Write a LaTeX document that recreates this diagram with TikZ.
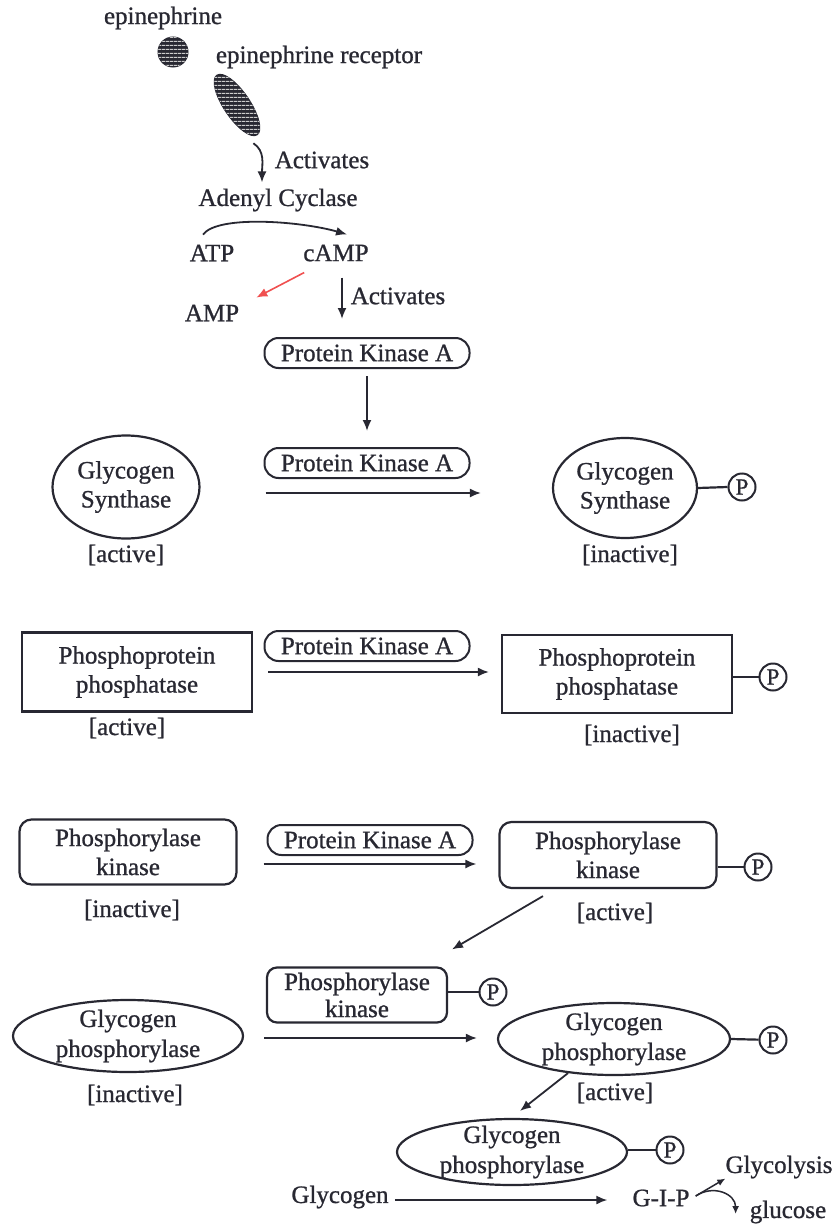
\documentclass[tikz,border=0pt]{standalone}
\usepackage{fontspec}
\setmainfont{Liberation Serif}[FakeBold=0.9]
\usetikzlibrary{arrows.meta,shapes.geometric,patterns.meta,calc}
\definecolor{ink}{RGB}{40,40,50}
\definecolor{redarrow}{RGB}{240,80,80}
\newcommand\diafont{\fontsize{25}{29}\selectfont}
\begin{document}
\begin{tikzpicture}[x=1pt,y=-1pt,
  every node/.style={text=ink, font=\diafont},
  lbl/.style={inner sep=0pt},
  line/.style={draw=ink, line width=2.2pt},
  arr/.style={draw=ink, line width=1.8pt, -{Latex[length=11pt,width=9pt]}},
  ellnode/.style={ellipse, draw=ink, line width=2.2pt, inner sep=-25pt, align=center},
  boxnode/.style={rectangle, draw=ink, line width=2.2pt, inner sep=-25pt, align=center},
  roundnode/.style={boxnode, rounded corners=12pt},
  pka/.style={rectangle, rounded corners=14pt, draw=ink, line width=2pt, minimum width=205, minimum height=30, inner sep=0pt},
  phos/.style={circle, draw=ink, line width=2pt, minimum size=27, inner sep=0pt, font=\fontsize{23}{23}\selectfont},
  hatch/.style={fill=ink, draw=ink, line width=1pt, postaction={pattern={Lines[angle=0,distance=4pt,line width=1.3pt]}, pattern color=white!60!gray}}
]
\fill[white] (0,0) rectangle (838,1225);
\useasboundingbox (0,0) rectangle (838,1225);

% top part
\node[lbl] (epi) at (163,18) {epinephrine};
\node[circle, minimum size=30, inner sep=0pt, hatch] (lig) at (173,52) {};
\node[lbl] (rectxt) at (319,57) {epinephrine receptor};
\node[ellipse, minimum width=72, minimum height=26, inner sep=0pt, rotate=-56, hatch] (rec) at (237,105) {};
\node[lbl] (actA) at (322,160) {Activates};
\node[lbl] (ac) at (278,200) {Adenyl Cyclase};
\node[lbl] (atp) at (212,253) {ATP};
\node[lbl] (camp) at (336,253) {cAMP};
\node[lbl] (amp) at (212,313) {AMP};
\node[lbl] (actB) at (398,296) {Activates};
\node[pka] (pka1) at (367,353) {Protein Kinase A};

\draw[arr] ($(rec.east)+(-4,8)$) .. controls +(12,8) and +(0,-18) .. ($(ac.north)+(-16,-6)$);
\draw[arr] ($(atp.north)+(-9,-10)$) .. controls +(15,-20) and +(-45,-13) .. ($(camp.north)+(11,-10)$);
\draw[arr, draw=redarrow, line width=1.6pt] ($(camp.south west)+(1,11)$) -- ($(amp.north east)+(17,-7)$);
\draw[arr] ($(camp.south)+(6,16)$) -- ($(pka1.north)+(-25,-18)$);

% row 1
\node[pka] (pka2) at (367,463) {Protein Kinase A};
\draw[arr] ($(pka1.south)+(0,7)$) -- ($(pka2.north)+(0,-16)$);
\node[ellnode, minimum width=147, minimum height=103] (gs1) at (126,487) {Glycogen\\Synthase};
\node[lbl] (gs1s) at (126,555) {[active]};
\node[ellnode, minimum width=144, minimum height=100] (gs2) at (625,488) {Glycogen\\Synthase};
\node[phos] (p1) at (742,487) {P};
\draw[line] (gs2.east) -- (p1.west);
\node[lbl] (gs2s) at (630,555) {[inactive]};
\draw[arr, shorten <=65pt, shorten >=71pt] ($(gs1.east)+(0,6)$) -- ($(gs2.west)+(0,5)$);

% row 2
\node[boxnode, minimum width=230, minimum height=79] (pp1) at (137,672) {Phosphoprotein\\phosphatase};
\node[lbl] (pp1s) at (127,728) {[active]};
\node[pka] (pka3) at (367,646) {Protein Kinase A};
\node[boxnode, minimum width=230, minimum height=78] (pp2) at (617,674) {Phosphoprotein\\phosphatase};
\node[phos] (p2) at (773,677) {P};
\draw[line] (pp2.east |- p2) -- (p2);
\node[lbl] (pp2s) at (632,735) {[inactive]};
\draw[arr, shorten <=15pt, shorten >=12pt] (pp1.east) -- ($(pp2.west)+(0,-2)$);

% row 3
\node[roundnode, minimum width=217, minimum height=65] (pk1) at (128,852) {Phosphorylase\\kinase};
\node[lbl] (pk1s) at (132,910) {[inactive]};
\node[pka] (pka4) at (370,840) {Protein Kinase A};
\node[roundnode, minimum width=217, minimum height=66] (pk2) at (608,855) {Phosphorylase\\kinase};
\node[phos] (p3) at (758,867) {P};
\draw[line] (pk2.east |- p3) -- (p3);
\node[lbl] (pk2s) at (615,913) {[active]};
\draw[arr, shorten <=26pt, shorten >=22pt] ($(pk1.east)+(0,12)$) -- ($(pk2.west)+(0,9)$);

% row 4
\node[roundnode, rounded corners=10pt, minimum width=180, minimum height=55, font=\fontsize{25}{27}\selectfont] (pks) at (357,995) {Phosphorylase\\kinase};
\node[phos] (p4) at (493,992) {P};
\draw[line] (pks.east |- p4) -- (p4);
\draw[arr] ($(pk2.south)+(-65,7)$) -- ($(pks.north)+(95,-17)$);
\node[ellnode, minimum width=230, minimum height=72, font=\fontsize{25}{30}\selectfont] (gp1) at (128,1036) {Glycogen\\phosphorylase};
\node[lbl] (gp1s) at (135,1095) {[inactive]};
\node[ellnode, minimum width=232, minimum height=72, font=\fontsize{25}{30}\selectfont] (gp2) at (614,1039) {Glycogen\\phosphorylase};
\node[phos] (p5) at (773,1040) {P};
\draw[line] (gp2.east) -- (p5);
\node[lbl] (gp2s) at (615,1093) {[active]};
\draw[arr, shorten <=20pt, shorten >=20pt] ($(gp1.east)+(0,2)$) -- ($(gp2.west)+(0,-1)$);

% bottom
\node[ellnode, minimum width=230, minimum height=66, font=\fontsize{25}{30}\selectfont] (gp3) at (512,1152) {Glycogen\\phosphorylase};
\node[phos] (p6) at (670,1150) {P};
\draw[line] (gp3.east |- p6) -- (p6);
\draw[arr] ($(gp2.south)+(-46,-3)$) -- ($(gp3.north)+(8,-7)$);
\node[lbl] (glyc) at (340,1197) {Glycogen};
\node[lbl] (gip) at (661,1198) {G-I-P};
\node[lbl] (glys) at (779,1167) {Glycolysis};
\node[lbl] (gluc) at (788,1212) {glucose};
\draw[arr, shorten <=6pt, shorten >=25pt] ($(glyc.east)+(0,3)$) -- ($(gip.west)+(0,2)$);
\draw[arr, line width=1.5pt, -{Latex[length=8pt,width=7pt]}] ($(gip.east)+(6,-2)$) -- ($(glys.south west)+(0,0)$);
\draw[arr, line width=1.5pt, -{Latex[length=8pt,width=7pt]}] ($(gip.east)+(6,-2)$) .. controls +(18,-12) and +(0,-20) .. ($(gluc.west)+(-14,2)$);
\end{tikzpicture}
\end{document}
